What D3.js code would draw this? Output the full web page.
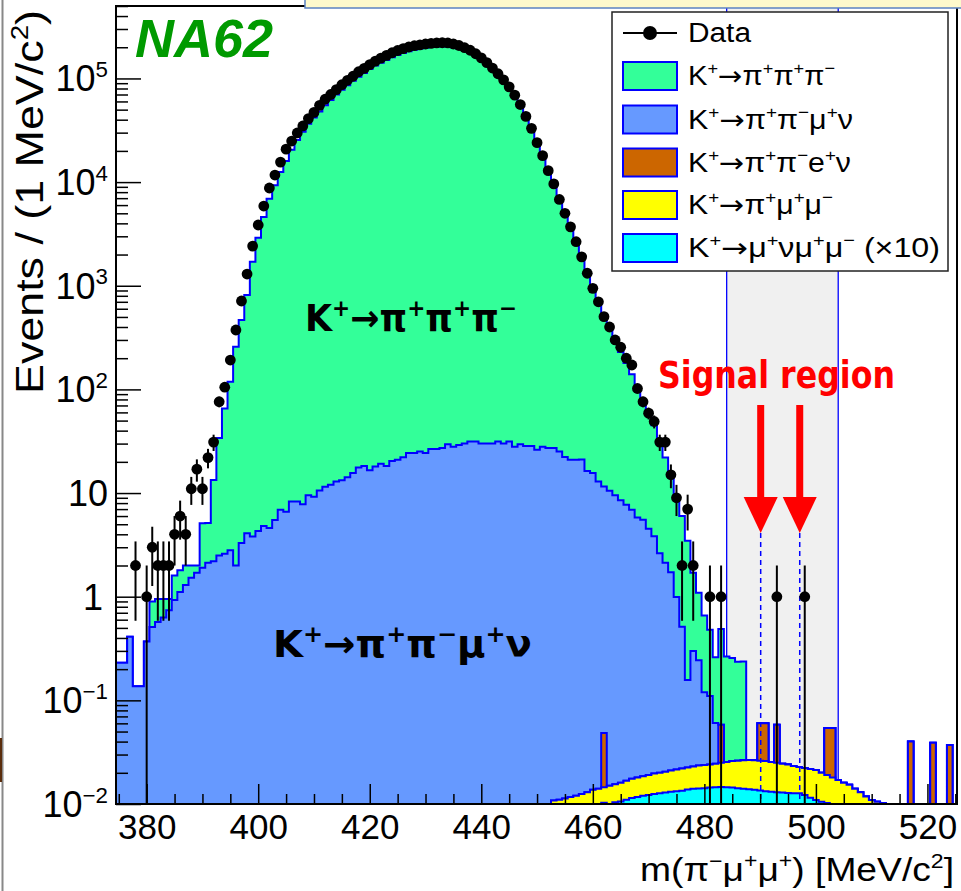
<!DOCTYPE html>
<html>
<head>
<meta charset="utf-8">
<script src="https://cdn.jsdelivr.net/npm/d3@7"></script>
<style>
  html, body { margin: 0; padding: 0; background: #fff; }
  svg { display: block; font-family: "Liberation Sans", Arial, sans-serif; }
</style>
</head>
<body>
<svg id="chart"></svg>
<script>
// bins are 1 MeV/c^2 wide, labelled by their centre
const firstBin = 375, lastBin = 525;

// K+ -> pi+ pi+ pi-
const k3piFirst = 381;
const k3pi = [0.39, 0.38, 0.32, 0.21, 0.67, 0.69, 0.70, 0.48, 0.30, 3.2,
  3.0, 11.2, 31.5, 63, 116, 256, 464, 809, 1700, 2900,
  4600, 6900, 9300, 12500, 16000, 20500, 25500, 30600, 36500, 42000,
  48000, 55000, 62000, 70000, 78000, 86000, 95000, 104000, 113000, 123000,
  133000, 142000, 151000, 160000, 168000, 176000, 183000, 189000, 194000, 198000,
  201000, 203000, 204000, 203000, 200000, 195000, 188000, 179000, 168000, 155000,
  140000, 125000, 110000, 95000, 81000, 67000, 55000, 43000, 33000, 24500,
  18500, 13000, 9770, 6975, 5078, 3779, 2679, 1929, 1384, 984,
  707, 508, 380, 280, 221, 172, 133, 99, 74.5, 55.5,
  41.2, 29.4, 19.9, 13.3, 8.0, 5.5, 3.3, 1.4, 0.85, 0.54,
  0.37, 0.20, 0.43, 0.24, 0.23, 0.21, 0.21];

// K+ -> pi+ pi- mu+ nu
const kmu4First = 375;
const kmu4 = [0.23, 0.23, 0.41, 0.137, 0.137, 0.37, 0.51, 0.57, 0.63, 0.74,
  0.93, 1.11, 1.30, 1.52, 1.70, 1.90, 2.13, 2.2, 2.5, 2.6,
  2.8, 2.0, 3.3, 4.1, 3.8, 4.3, 4.8, 4.6, 5.5, 6.9,
  6.6, 8.3, 8.3, 7.8, 9.5, 9.2, 10.6, 11.5, 12.0, 12.9,
  13.3, 14.2, 15.6, 17.6, 18.2, 16.6, 18.0, 19.2, 18.2, 20.4,
  21.0, 22.2, 24.4, 24.4, 25.1, 24.4, 26.6, 26.6, 27.2, 29.6,
  28.0, 29.0, 30.0, 31.4, 31.4, 30.0, 30.0, 30.0, 31.4, 30.0,
  31.4, 28.0, 29.6, 28.5, 28.5, 26.1, 28.0, 27.2, 27.2, 25.1,
  22.3, 21.0, 21.0, 21.0, 16.3, 15.6, 12.9, 11.5, 10.5, 9.5,
  8.5, 7.7, 6.9, 5.8, 5.5, 4.5, 3.8, 2.6, 2.1, 1.7,
  0.97, 0.49, 0.135, 0.277, 0.22, 0.096, 0.086, 0.036];

// K+ -> pi+ pi- e+ nu (single weighted events)
const ke4Bins = [462, 483, 490, 491, 493, 502, 503, 517, 521, 524];
const ke4 = [0.034, 0.033, 0.034, 0.034, 0.033, 0.035, 0.036, 0.040, 0.039, 0.037];

// K+ -> pi+ mu+ mu-
const pimumuFirst = 453;
const pimumu = [0.0108, 0.011, 0.0113, 0.0117, 0.012, 0.0125, 0.013, 0.0137, 0.014, 0.0042,
  0.015, 0.0051, 0.0054, 0.0058, 0.0061, 0.0063, 0.0065, 0.0068, 0.0072, 0.0073,
  0.0076, 0.0079, 0.0082, 0.0086, 0.0087, 0.009, 0.0094, 0.0096, 0.0096, 0.01,
  0.0104, 0.0109, 0.0116, 0.012, 0.0125, 0.0127, 0.0128, 0.0127, 0.0127, 0.0123,
  0.012, 0.0116, 0.0112, 0.0105, 0.0101, 0.01, 0.0103, 0.0104, 0.0095, 0.0088,
  0.009, 0.009, 0.009, 0.0093, 0.009, 0.009, 0.0088, 0.0089, 0.0095, 0.0102];

// K+ -> mu+ nu mu+ mu- (x10)
const munumumuFirst = 462;
const munumumu = [0.0103, 0, 0.0104, 0.0106, 0.011, 0.0114, 0.0117, 0.012, 0.0122, 0.0125,
  0.0127, 0.0129, 0.0131, 0.0133, 0.0134, 0.0138, 0.014, 0.0141, 0.0142, 0.0144,
  0.0145, 0.0146, 0.0145, 0.0144, 0.0142, 0.014, 0.0139, 0.0137, 0.0135, 0.0133,
  0.0131, 0.013, 0.0129, 0.0128, 0.0127, 0.0127, 0.0122, 0.0115, 0.0109, 0.0105,
  0.0102, 0.009, 0.008, 0.007, 0.006, 0.005, 0.004, 0.003, 0.002, 0.001];

// data, events per bin
const dataFirst = 378;
const dataCounts = [2, 0, 1, 3, 2, 2, 2, 4, 6, 4,
  11, 17, 11, 22, 31, 76, 105, 192, 374, 713,
  1297, 2415, 3855, 5875, 8770, 11700, 15600, 20800, 24900, 29800,
  34800, 41000, 47000, 55000, 63000, 70000, 78000, 87000, 96000, 105000,
  116000, 125000, 136000, 147000, 157000, 167000, 177000, 186000, 194000, 201000,
  207000, 211000, 215000, 218000, 220000, 221000, 220000, 215000, 208000, 198000,
  187000, 173000, 158000, 142000, 126000, 111000, 97000, 83000, 69000, 56000,
  43000, 33000, 24000, 18000, 12900, 9600, 6800, 5000, 3700, 2660,
  1900, 1320, 944, 700, 503, 400, 300, 255, 200, 172,
  102, 76, 59, 49, 31, 31, 15, 9, 2, 7,
  2, 0, 0, 1, 0, 1, 0, 0, 0, 0,
  0, 0, 0, 0, 0, 1, 0, 0, 0, 0, 1];

const blindRegion = [484, 504];
const signalRegion = [490.1, 497.1];

const xMajor = [380, 400, 420, 440, 460, 480, 500, 520];
const xMinor = [375, 385, 390, 395, 405, 410, 415, 425, 430, 435, 445, 450, 455, 465, 470, 475, 485, 490, 495, 505, 510, 515, 525];
const yMajor = [1e-2, 1e-1, 1, 10, 1e2, 1e3, 1e4, 1e5];
const yLabels = ["10^{−2}", "10^{−1}", "1", "10", "10^{2}", "10^{3}", "10^{4}", "10^{5}"];

const legendItems = [
  { key: "k3pi", label: "K^{+}→π^{+}π^{+}π^{−}", color: "#33ff99", w: 147 },
  { key: "kmu4", label: "K^{+}→π^{+}π^{−}μ^{+}ν", color: "#6699ff", w: 165 },
  { key: "ke4", label: "K^{+}→π^{+}π^{−}e^{+}ν", color: "#cc6600", w: 163 },
  { key: "pimumu", label: "K^{+}→π^{+}μ^{+}μ^{−}", color: "#ffff00", w: 145 },
  { key: "munumumu", label: "K^{+}→μ^{+}νμ^{+}μ^{−} (×10)", color: "#00ffff", w: 252 }
];

const W = 961, H = 891;
const M = { left: 116, top: 6, right: 957, bottom: 804 };
const LINE = "#0000ff";

const svg = d3.select("#chart").attr("width", W).attr("height", H).attr("viewBox", `0 0 ${W} ${H}`);
svg.append("rect").attr("width", W).attr("height", H).attr("fill", "#fff");

const x = d3.scaleLinear().domain([374.5, 525.3]).range([M.left, M.right]);
const y = d3.scaleLog().domain([1e-2, 5e5]).range([M.bottom, M.top]);

// write ROOT style ^{..} superscripts as tspans, arrows in DejaVu (long glyph)
function rich(sel, str, fs) {
  const shift = fs * 0.4;
  let up = false;
  str.split(/(\^\{[^}]*\}|→)/).filter(s => s.length).forEach(p => {
    if (p.startsWith("^{")) {
      sel.append("tspan").attr("font-size", fs * 0.62).attr("dy", up ? 0 : -shift).text(p.slice(2, -1));
      up = true;
    } else {
      const t = sel.append("tspan").attr("dy", up ? shift : 0).text(p);
      if (p === "→") t.attr("font-family", "DejaVu Sans, sans-serif");
      up = false;
    }
  });
}

// left page edge leftovers
svg.append("line").attr("x1", 2.5).attr("x2", 2.5).attr("y1", 0).attr("y2", H).attr("stroke", "#888").attr("stroke-width", 2);
svg.append("rect").attr("x", 0).attr("y", 738).attr("width", 2).attr("height", 44).attr("fill", "#5a2d0c");

svg.append("clipPath").attr("id", "plotclip").append("rect")
  .attr("x", M.left).attr("y", M.top).attr("width", M.right - M.left).attr("height", M.bottom - M.top);
const plot = svg.append("g").attr("clip-path", "url(#plotclip)");

// blinded region box
plot.append("rect")
  .attr("x", x(blindRegion[0])).attr("y", M.top)
  .attr("width", x(blindRegion[1]) - x(blindRegion[0])).attr("height", M.bottom - M.top)
  .attr("fill", "#f0f0f0");
blindRegion.forEach(v => {
  plot.append("line").attr("x1", x(v)).attr("x2", x(v)).attr("y1", M.top).attr("y2", M.bottom)
    .attr("stroke", LINE).attr("stroke-width", 1.3);
});

// stacked MC
const bins = d3.range(firstBin, lastBin + 1);
const at = (first, arr, b) => (b >= first && b < first + arr.length) ? arr[b - first] : 0;
const table = bins.map(b => ({
  bin: b,
  munumumu: at(munumumuFirst, munumumu, b),
  pimumu: at(pimumuFirst, pimumu, b),
  ke4: ke4Bins.includes(b) ? ke4[ke4Bins.indexOf(b)] : 0,
  kmu4: at(kmu4First, kmu4, b),
  k3pi: at(k3piFirst, k3pi, b)
}));
const stack = d3.stack().keys(["munumumu", "pimumu", "ke4", "kmu4", "k3pi"])(table);
const colorOf = Object.fromEntries(legendItems.map(d => [d.key, d.color]));

const yv = v => v > 0 ? y(v) : M.bottom + 300;
const steps = layer => layer.flatMap(d => [[d.data.bin - 0.5, d[1]], [d.data.bin + 0.5, d[1]]]);
const area = d3.area().x(p => x(p[0])).y0(M.bottom + 300).y1(p => yv(p[1]));
const outline = d3.line().x(p => x(p[0])).y(p => yv(p[1]));

stack.slice().reverse().forEach(layer => {
  const p = steps(layer);
  plot.append("path").attr("d", area(p)).attr("fill", colorOf[layer.key]);
  plot.append("path").attr("d", outline(p)).attr("fill", "none")
    .attr("stroke", LINE).attr("stroke-width", 2);
});

// signal region lines
signalRegion.forEach(v => {
  plot.append("line").attr("x1", x(v)).attr("x2", x(v)).attr("y1", 533).attr("y2", M.bottom)
    .attr("stroke", LINE).attr("stroke-width", 1.5).attr("stroke-dasharray", "5,4");
});

// data points
const points = dataCounts.map((n, i) => ({ bin: dataFirst + i, n })).filter(d => d.n > 0);
plot.selectAll(".err").data(points).enter().append("line")
  .attr("x1", d => x(d.bin)).attr("x2", d => x(d.bin))
  .attr("y1", d => y(d.n + Math.sqrt(d.n)))
  .attr("y2", d => d.n - Math.sqrt(d.n) > 0 ? y(d.n - Math.sqrt(d.n)) : M.bottom)
  .attr("stroke", "#000").attr("stroke-width", 2);
plot.selectAll(".dot").data(points).enter().append("circle")
  .attr("cx", d => x(d.bin)).attr("cy", d => y(d.n)).attr("r", 5.4).attr("fill", "#000");

// axes, ticks pointing inwards
const styleAxis = g => {
  g.select(".domain").remove();
  g.selectAll(".tick line").attr("stroke", "#000").attr("stroke-width", 1.5);
};
svg.append("g").attr("transform", `translate(0,${M.bottom})`)
  .call(d3.axisBottom(x).tickValues(xMajor).tickSize(-20).tickPadding(10).tickFormat(d3.format("d")))
  .call(styleAxis)
  .call(g => g.selectAll("text").attr("font-size", 35).attr("fill", "#000")
    .attr("font-family", "Liberation Sans, Arial, sans-serif"));
svg.append("g").attr("transform", `translate(0,${M.bottom})`)
  .call(d3.axisBottom(x).tickValues(xMinor).tickSize(-10).tickFormat(""))
  .call(styleAxis);

const yMinor = [];
[-2, -1, 0, 1, 2, 3, 4, 5].forEach(e => {
  for (let k = 2; k <= 9; k++) { const v = k * Math.pow(10, e); if (v <= 5e5) yMinor.push(v); }
});
svg.append("g").attr("transform", `translate(${M.left},0)`)
  .call(d3.axisLeft(y).tickValues(yMajor).tickSize(-25).tickFormat(""))
  .call(styleAxis);
svg.append("g").attr("transform", `translate(${M.left},0)`)
  .call(d3.axisLeft(y).tickValues(yMinor).tickSize(-12).tickFormat(""))
  .call(styleAxis);

yMajor.forEach((v, i) => {
  const t = svg.append("text").attr("x", v === 1 ? 103 : 108).attr("y", y(v) + 13)
    .attr("text-anchor", "end").attr("font-size", 36).attr("fill", "#000");
  rich(t, yLabels[i], 36);
});

// frame
svg.append("rect").attr("x", M.left).attr("y", M.top)
  .attr("width", M.right - M.left).attr("height", M.bottom - M.top)
  .attr("fill", "none").attr("stroke", "#000").attr("stroke-width", 2);

// axis titles
const xt = svg.append("text").attr("x", 954).attr("y", 881).attr("text-anchor", "end")
  .attr("font-size", 33).attr("fill", "#000")
  .attr("textLength", 314).attr("lengthAdjust", "spacingAndGlyphs");
rich(xt, "m(π^{−}μ^{+}μ^{+}) [MeV/c^{2}]", 33);
const yt = svg.append("text").attr("transform", "translate(43,10) rotate(-90)")
  .attr("text-anchor", "end").attr("font-size", 38).attr("fill", "#000")
  .attr("textLength", 384).attr("lengthAdjust", "spacingAndGlyphs");
rich(yt, "Events / (1 MeV/c^{2})", 38);

// NA62 tag
svg.append("text").attr("x", 135).attr("y", 57).attr("font-size", 54)
  .attr("font-weight", "bold").attr("font-style", "italic").attr("fill", "#009a00").text("NA62");

// channel annotations
const a1 = svg.append("text").attr("x", 305).attr("y", 331).attr("font-size", 37)
  .attr("font-weight", "bold").attr("font-family", "DejaVu Sans, sans-serif").attr("fill", "#000")
  .attr("textLength", 212).attr("lengthAdjust", "spacingAndGlyphs");
rich(a1, "K^{+}→π^{+}π^{+}π^{−}", 37);
const a2 = svg.append("text").attr("x", 273).attr("y", 657).attr("font-size", 37)
  .attr("font-weight", "bold").attr("font-family", "DejaVu Sans, sans-serif").attr("fill", "#000")
  .attr("textLength", 259).attr("lengthAdjust", "spacingAndGlyphs");
rich(a2, "K^{+}→π^{+}π^{−}μ^{+}ν", 37);

// signal region arrows
svg.append("text").attr("x", 658).attr("y", 388).attr("font-size", 37)
  .attr("font-weight", "bold").attr("font-family", "DejaVu Sans, sans-serif").attr("fill", "#ff0000")
  .attr("textLength", 237).attr("lengthAdjust", "spacingAndGlyphs").text("Signal region");
signalRegion.forEach(v => {
  const cx = x(v);
  svg.append("rect").attr("x", cx - 3.5).attr("y", 405).attr("width", 7).attr("height", 96).attr("fill", "#ff0000");
  svg.append("path").attr("d", `M${cx - 17},497 L${cx + 17},497 L${cx},533 Z`).attr("fill", "#ff0000");
});

// legend
const lg = svg.append("g");
lg.append("rect").attr("x", 612).attr("y", 12).attr("width", 336).attr("height", 259)
  .attr("fill", "#fff").attr("stroke", "#222").attr("stroke-width", 1.5);
const rowY = [33, 76, 119.5, 162.5, 205, 248];
lg.append("line").attr("x1", 623).attr("x2", 677).attr("y1", rowY[0]).attr("y2", rowY[0])
  .attr("stroke", "#000").attr("stroke-width", 2);
lg.append("circle").attr("cx", 650).attr("cy", rowY[0]).attr("r", 7).attr("fill", "#000");
lg.append("text").attr("x", 688).attr("y", rowY[0] + 9).attr("font-size", 27)
  .attr("textLength", 63).attr("lengthAdjust", "spacingAndGlyphs").text("Data");
legendItems.forEach((d, i) => {
  const cy = rowY[i + 1];
  lg.append("rect").attr("x", 623).attr("y", cy - 14).attr("width", 54).attr("height", 28)
    .attr("fill", d.color).attr("stroke", LINE).attr("stroke-width", 2);
  const t = lg.append("text").attr("x", 688).attr("y", cy + 9).attr("font-size", 27)
    .attr("textLength", d.w).attr("lengthAdjust", "spacingAndGlyphs");
  rich(t, d.label, 27);
});

// slide text box peeking in at the top
svg.append("rect").attr("x", 305).attr("y", -4).attr("width", 665).attr("height", 12)
  .attr("fill", "#fdf9cc").attr("stroke", "#5b82c2").attr("stroke-width", 1.5);
</script>
</body>
</html>
